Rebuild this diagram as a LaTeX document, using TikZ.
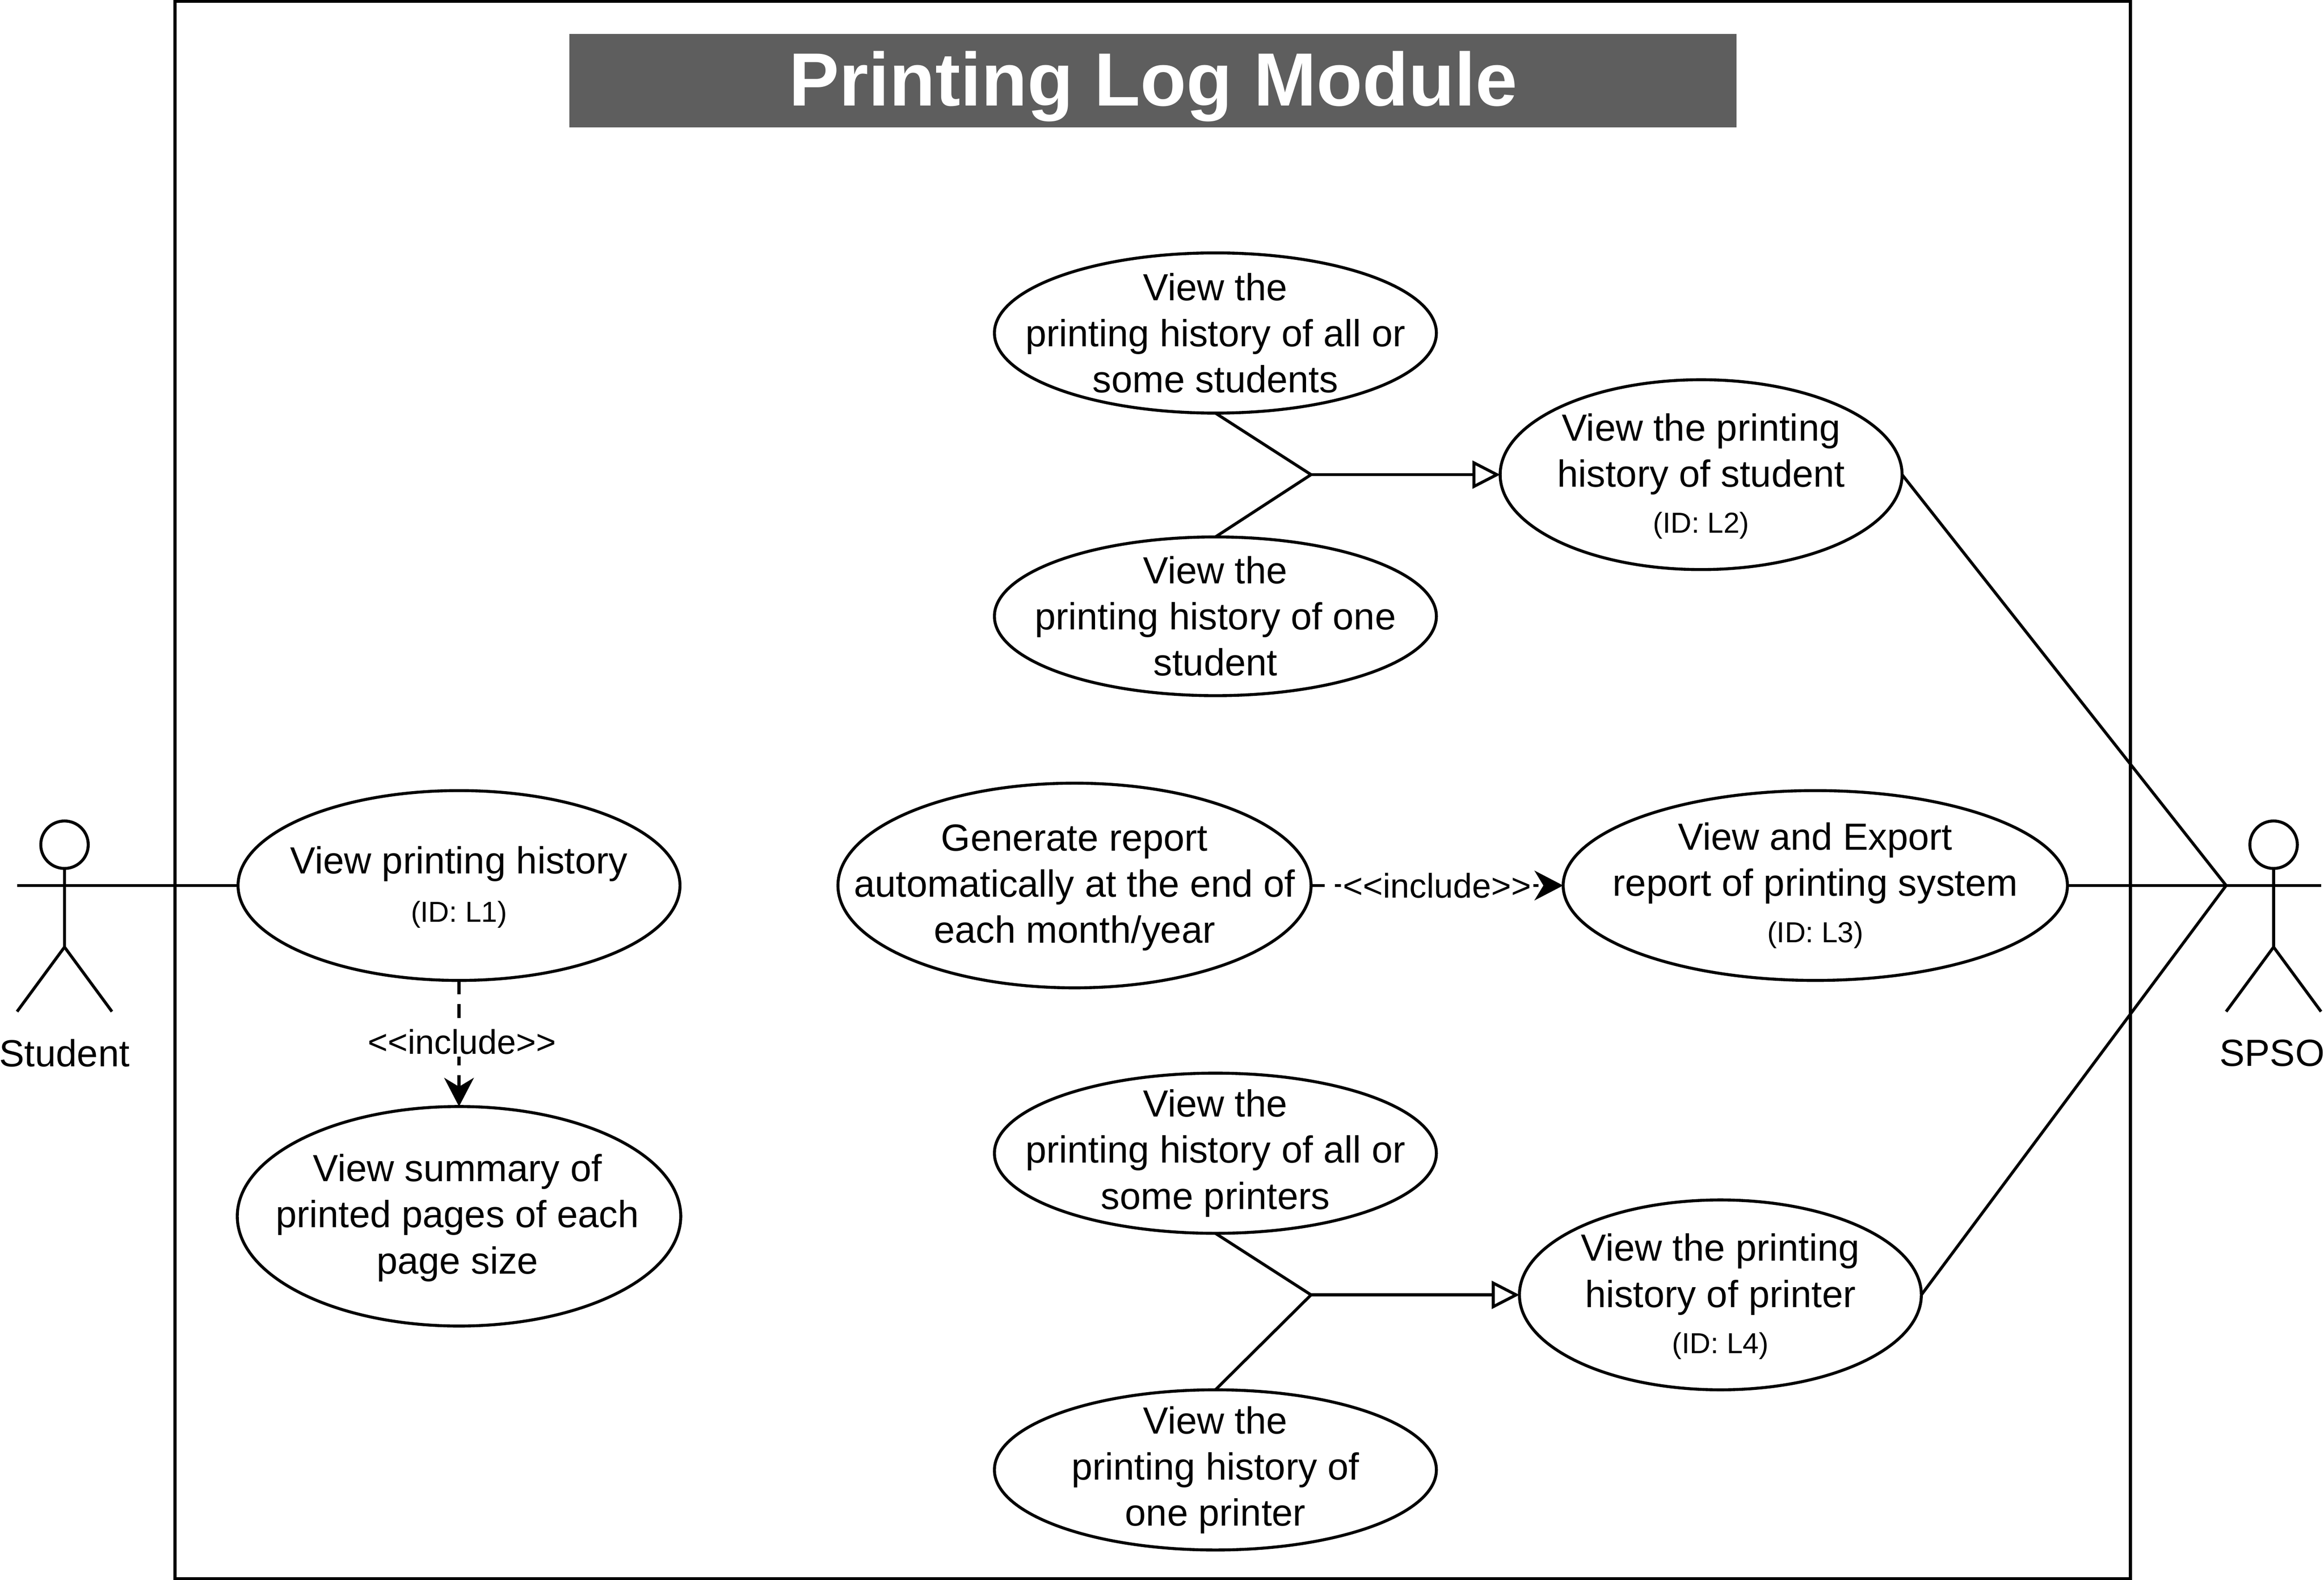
\documentclass[tikz,border=0pt]{standalone}
\usepackage{fontspec}
\setmainfont{Liberation Sans}
\usetikzlibrary{shapes.geometric,arrows.meta}
\newcommand{\idtext}[1]{{\fontsize{14.6}{17}\selectfont (ID: #1)}}
\newcommand{\inctext}{{<}{<}include{>}{>}}
\tikzset{
  usecase/.style 2 args={ellipse,draw,line width=1.5pt,inner sep=0pt,outer sep=0pt,
    fill=white,minimum width=#1*0.75pt,minimum height=#2*0.75pt},
  casetext/.style={align=center,inner sep=0pt,font=\fontsize{19.1}{23.3}\selectfont},
  limb/.style={draw,line width=1.5pt},
  inheritline/.style={line width=1.5pt,-{Triangle[open,length=14pt,width=14pt,line width=1.5pt]}},
  includeline/.style={line width=1.5pt,dash pattern=on 7pt off 5pt,-{Stealth[length=14.5pt,width=15pt,inset=4.5pt]}},
  includetext/.style={fill=white,inner sep=1pt,font=\fontsize{17.3}{20}\selectfont},
  actorname/.style={inner sep=0pt,font=\fontsize{19.1}{23}\selectfont}
}
\begin{document}
\begin{tikzpicture}[x=0.75pt,y=0.75pt,yscale=-1,xscale=1]
\useasboundingbox (0,0) rectangle (1567,1065.24);

% frame and title
\draw [line width=1.5pt] (118,1) rectangle (1436.5,1064.5);
\node [fill=black!63,text=white,minimum width=787*0.75pt,minimum height=63*0.75pt,inner sep=0pt,
  text height=33pt,text depth=8pt,font=\fontsize{38.1}{46}\bfseries\selectfont] (moduleTitle) at (777.5,54.5) {Printing Log Module};

% actors
\node [circle,draw,line width=1.5pt,minimum size=32*0.75pt,inner sep=0pt,outer sep=0pt] (studentHead) at (43.5,569.5) {};
\coordinate (studentHip) at (43.5,638.5);
\coordinate (studentArmL) at (11.5,597);
\coordinate (studentArmR) at (75.5,597);
\coordinate (studentFootL) at (11.5,682);
\coordinate (studentFootR) at (75.5,682);
\draw [limb] (studentHead.south) -- (studentHip) -- (studentFootL);
\draw [limb] (studentHip) -- (studentFootR);
\node [actorname] (studentName) at (43.5,710) {Student};

\node [circle,draw,line width=1.5pt,minimum size=32*0.75pt,inner sep=0pt,outer sep=0pt] (spsoHead) at (1533,569.5) {};
\coordinate (spsoHip) at (1533,638.5);
\coordinate (spsoArmL) at (1501,597);
\coordinate (spsoArmR) at (1565,597);
\coordinate (spsoFootL) at (1501,682);
\coordinate (spsoFootR) at (1565,682);
\draw [limb] (spsoHead.south) -- (spsoHip) -- (spsoFootL);
\draw [limb] (spsoHip) -- (spsoFootR);
\draw [limb] (spsoArmL) -- (spsoArmR);
\node [actorname] (spsoName) at (1532,710) {SPSO};

% use cases
\node [usecase={298}{128}] (viewHistory) at (309.5,597) {};
\node [casetext,yshift=-0.8pt] (viewHistoryText) at (viewHistory) {View printing history\\[1pt]\idtext{L1}};
\node [usecase={299}{148}] (viewSummary) at (309.5,820) {};
\node [casetext,xshift=-0.8pt,yshift=-0.8pt] (viewSummaryText) at (viewSummary) {View summary of\\printed pages of each\\page size};

\node [usecase={298}{108}] (allStudents) at (819.5,224.5) {};
\node [casetext] (allStudentsText) at (allStudents) {View the\\printing history of all or\\some students};
\node [usecase={298}{107}] (oneStudent) at (819.5,415.5) {};
\node [casetext] (oneStudentText) at (oneStudent) {View the\\printing history of one\\student};
\node [usecase={271}{128}] (historyStudent) at (1147,320) {};
\node [casetext,yshift=-0.8pt] (historyStudentText) at (historyStudent) {View the printing\\history of student\\\idtext{L2}};

\node [usecase={319}{138}] (genReport) at (724.5,597) {};
\node [casetext,yshift=-1pt] (genReportText) at (genReport) {Generate report\\automatically at the end of\\each month/year};
\node [usecase={340}{128}] (exportReport) at (1224,597) {};
\node [casetext] (exportReportText) at (exportReport) {View and Export\\report of printing system\\\idtext{L3}};

\node [usecase={298}{108}] (allPrinters) at (819.5,777.5) {};
\node [casetext] (allPrintersText) at (allPrinters) {View the\\printing history of all or\\some printers};
\node [usecase={298}{108}] (onePrinter) at (819.5,991) {};
\node [casetext] (onePrinterText) at (onePrinter) {View the\\printing history of\\one printer};
\node [usecase={271}{128}] (historyPrinter) at (1160,873) {};
\node [casetext,yshift=-0.8pt] (historyPrinterText) at (historyPrinter) {View the printing\\history of printer\\\idtext{L4}};

% connectors
\draw [limb] (studentArmL) -- (studentArmR) -- (viewHistory.west);
\coordinate (studentHub) at (884,320);
\draw [limb] (allStudents.south) -- (studentHub) -- (oneStudent.north);
\draw [inheritline] (studentHub) -- (historyStudent.west);
\coordinate (printerHub) at (884,873);
\draw [limb] (allPrinters.south) -- (printerHub) -- (onePrinter.north);
\draw [inheritline] (printerHub) -- (historyPrinter.west);
\draw [limb] (historyStudent.east) -- (spsoArmL);
\draw [limb] (exportReport.east) -- (spsoArmL);
\draw [limb] (historyPrinter.east) -- (spsoArmL);
\draw [includeline] (viewHistory.south) -- node [includetext,xshift=1.5pt,yshift=0.8pt] (incSummary) {\inctext} (viewSummary.north);
\draw [includeline] (genReport.east) -- node [includetext] (incReport) {\inctext} (exportReport.west);

\end{tikzpicture}
\end{document}
